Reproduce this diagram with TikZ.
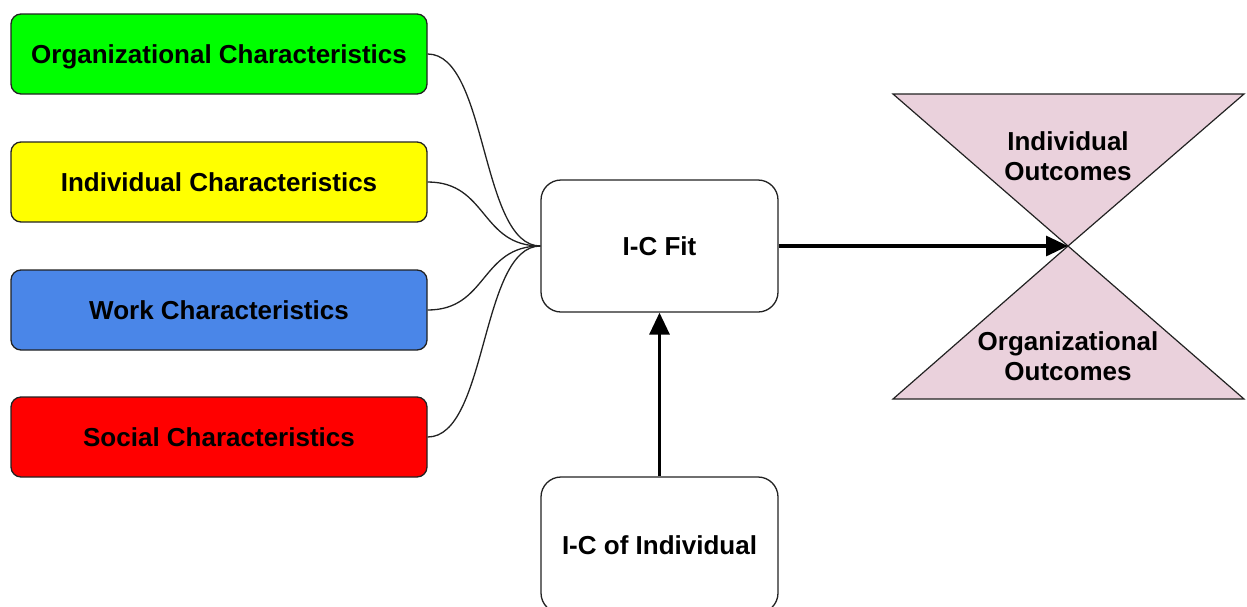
\documentclass[tikz,border=0pt]{standalone}
\usepackage{fontspec}
\setmainfont{Liberation Sans}
\usetikzlibrary{arrows.meta}
\definecolor{cgreen}{HTML}{00FF00}
\definecolor{cyellow}{HTML}{FFFF00}
\definecolor{cblue}{HTML}{4A86E8}
\definecolor{cred}{HTML}{FF0000}
\definecolor{cpink}{HTML}{EAD1DC}
\definecolor{cline}{HTML}{222222}
\tikzset{
  bigfont/.style={font=\fontsize{26}{30}\selectfont\bfseries},
  charbox/.style={draw=cline, line width=1.3pt, rounded corners=10pt, minimum width=416pt, minimum height=80pt, inner sep=0pt, text height=18.6pt, text depth=0pt, bigfont},
  fitbox/.style={draw=cline, line width=1.3pt, rounded corners=20pt, fill=white, minimum width=237pt, minimum height=132pt, inner sep=0pt, text height=18.6pt, text depth=0pt, bigfont},
  link/.style={draw=cline, line width=1.3pt},
  bigarrow/.style={draw=black, line width=3.2pt, -{Triangle[length=22pt,width=20pt]}},
  tri/.style={draw=cline, line width=1.2pt, fill=cpink},
  outlabel/.style={align=center, bigfont}
}
\begin{document}
\begin{tikzpicture}[x=1pt,y=-1pt]
\useasboundingbox (0,0) rectangle (1247,606);
\begin{scope}
\clip (0,0) rectangle (1247,606);
\node[charbox, fill=cgreen] (org) at (219,54) {Organizational Characteristics};
\node[charbox, fill=cyellow] (ind) at (219,182) {Individual Characteristics};
\node[charbox, fill=cblue] (work) at (219,310) {Work Characteristics};
\node[charbox, fill=cred] (soc) at (219,437) {Social Characteristics};
\node[fitbox] (fit) at (659.5,246) {I-C Fit};
\node[fitbox, minimum height=136pt] (icind) at (659.5,545) {I-C of Individual};
\path[tri] (893,94) -- (1244,94) -- (1068,246) -- cycle;
\path[tri] (1068,246) -- (1244,399) -- (893,399) -- cycle;
\coordinate (apex) at (1068,246);
\node[outlabel] (indout) at (1068,156) {Individual\\Outcomes};
\node[outlabel] (orgout) at (1068,356) {Organizational\\Outcomes};
\foreach \n in {org,ind,work,soc}{
  \draw[link] (\n.east) .. controls ([xshift=60pt]\n.east) and ([xshift=-60pt]fit.west) .. (fit.west);
}
\draw[bigarrow] (fit.east) -- (apex);
\draw[bigarrow] (icind.north) -- (fit.south);
\end{scope}
\end{tikzpicture}
\end{document}
